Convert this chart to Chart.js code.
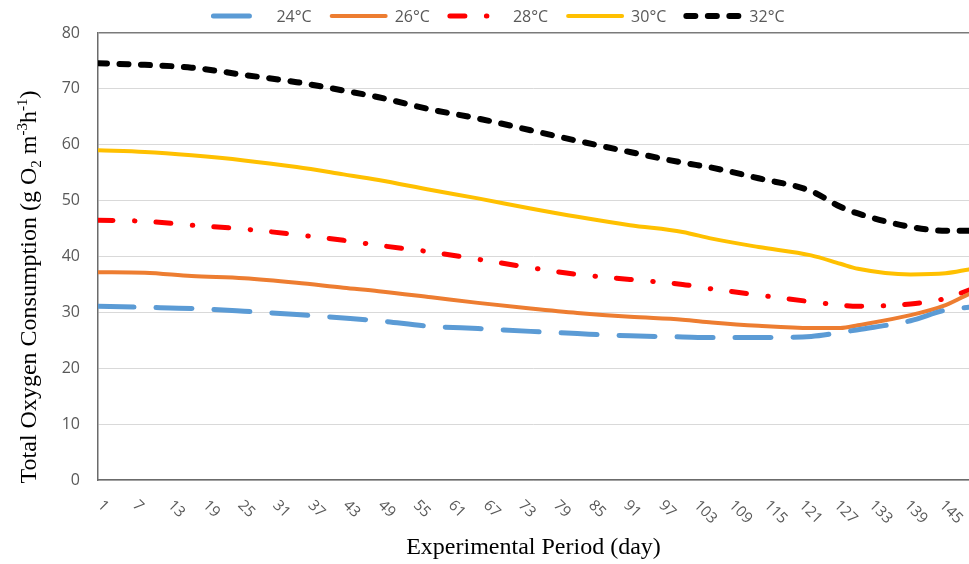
<!DOCTYPE html>
<html>
<head>
<meta charset="utf-8">
<script src="https://cdn.jsdelivr.net/npm/chart.js@4.4.1/dist/chart.umd.min.js"></script>
<style>
  html, body { margin: 0; padding: 0; background: #fff; }
  #wrap { width: 969px; height: 564px; position: relative; }
</style>
</head>
<body>
<div id="wrap"><canvas id="chart"></canvas></div>
<script>
const days = [1, 9, 17, 26, 35, 43, 49, 58, 66, 75, 83, 92, 101, 106, 114, 123, 128, 131, 140, 146, 150];
const t24 = [31.1, 30.9, 30.7, 30.2, 29.6, 29.0, 28.5, 27.5, 27.1, 26.6, 26.2, 25.8, 25.6, 25.5, 25.5, 25.7, 26.4, 26.9, 28.5, 30.4, 30.9];
const t26 = [37.2, 37.1, 36.5, 36.1, 35.3, 34.4, 33.8, 32.7, 31.7, 30.7, 29.9, 29.2, 28.7, 28.2, 27.6, 27.2, 27.2, 27.7, 29.5, 31.3, 33.3];
const t28 = [46.5, 46.3, 45.6, 44.9, 43.9, 42.9, 42.0, 40.8, 39.5, 38.0, 36.8, 35.9, 35.0, 34.2, 33.1, 31.9, 31.3, 31.1, 31.5, 32.5, 34.0];
const t30 = [59.0, 58.7, 58.1, 57.2, 56.0, 54.7, 53.7, 51.9, 50.4, 48.6, 47.1, 45.6, 44.4, 43.2, 41.7, 40.2, 38.7, 37.8, 36.8, 37.0, 37.7];
const t32 = [74.6, 74.3, 73.8, 72.5, 71.2, 69.7, 68.5, 66.3, 64.7, 62.6, 60.7, 58.7, 56.8, 55.9, 54.0, 51.7, 48.9, 47.7, 45.3, 44.6, 44.6];
const seriesLabels = ['24°C', '26°C', '28°C', '30°C', '32°C'];
const tickDays = [1, 7, 13, 19, 25, 31, 37, 43, 49, 55, 61, 67, 73, 79, 85, 91, 97, 103, 109, 115, 121, 127, 133, 139, 145];

function pts(arr) {
    return days.map((d, i) => ({x: d, y: arr[i]}));
}

function makeSet(label, arr, color, width, dash) {
    return {
        label: label,
        data: pts(arr),
        borderColor: color,
        backgroundColor: color,
        borderWidth: width,
        borderDash: dash,
        borderCapStyle: 'round',
        borderJoinStyle: 'round',
        cubicInterpolationMode: 'monotone',
        pointRadius: 0,
        fill: false
    };
}

// legend, rotated day labels and the y title with sub/superscripts
const extras = {
    id: 'extras',
    afterDraw(chart) {
        const ctx = chart.ctx;
        const xs = chart.scales.x;
        const area = chart.chartArea;
        ctx.save();

        ctx.font = '15px "Open Sans"';
        ctx.fillStyle = '#595959';
        ctx.textAlign = 'left';
        ctx.textBaseline = 'middle';
        tickDays.forEach(d => {
            const px = xs.getPixelForValue(d);
            ctx.save();
            ctx.translate(px + 2, area.bottom + 23);
            ctx.rotate(Math.PI / 4);
            ctx.fillText(String(d), 0, 0);
            ctx.restore();
        });

        // legend
        ctx.font = '16px "Open Sans"';
        const legendY = 16, sample = 54, gapText = 9, gapItem = 20;
        const sets = chart.data.datasets;
        const widths = sets.map(ds => ctx.measureText(ds.label).width);
        const total = widths.reduce((a, w) => a + sample + gapText + w + gapItem, 0) - gapItem;
        let x = 499 - total / 2;
        sets.forEach((ds, i) => {
            ctx.beginPath();
            ctx.setLineDash(ds.borderDash || []);
            ctx.lineCap = 'round';
            ctx.lineWidth = ds.borderWidth;
            ctx.strokeStyle = ds.borderColor;
            ctx.moveTo(x, legendY);
            ctx.lineTo(x + sample, legendY);
            ctx.stroke();
            ctx.setLineDash([]);
            ctx.fillText(ds.label, x + sample + gapText, legendY + 1);
            x += sample + gapText + widths[i] + gapItem;
        });

        // y axis title
        const parts = [
            ['Total Oxygen Consumption (g O', 24, 0],
            ['2', 15, 5],
            [' m', 24, 0],
            ['-3', 15, -9],
            ['h', 24, 0],
            ['-1', 15, -9],
            [')', 24, 0]
        ];
        ctx.fillStyle = '#000';
        ctx.textBaseline = 'alphabetic';
        let len = 0;
        parts.forEach(p => {
            ctx.font = p[1] + 'px "Liberation Serif"';
            len += ctx.measureText(p[0]).width;
        });
        ctx.translate(28, 287);
        ctx.rotate(-Math.PI / 2);
        let u = -len / 2;
        parts.forEach(p => {
            ctx.font = p[1] + 'px "Liberation Serif"';
            ctx.fillText(p[0], u, 8 + p[2]);
            u += ctx.measureText(p[0]).width;
        });
        ctx.restore();
    }
};

new Chart(document.getElementById('chart'), {
    type: 'line',
    data: {
        datasets: [
            makeSet(seriesLabels[0], t24, '#5B9BD5', 5, [36, 22]),
            makeSet(seriesLabels[1], t26, '#ED7D31', 4, []),
            makeSet(seriesLabels[2], t28, '#FF0000', 5, [15, 21.5, 0.5, 21]),
            makeSet(seriesLabels[3], t30, '#FFC000', 4, []),
            makeSet(seriesLabels[4], t32, '#000000', 6, [9, 12.5])
        ]
    },
    options: {
        responsive: true,
        maintainAspectRatio: false,
        animation: false,
        layout: {
            padding: {top: 33, right: 0, bottom: 0, left: 0}
        },
        scales: {
            x: {
                type: 'linear',
                min: 1,
                max: 150,
                ticks: {display: false},
                grid: {display: false, drawTicks: false},
                border: {display: true, color: '#6b6b6b', width: 1.5},
                title: {
                    display: true,
                    text: 'Experimental Period (day)',
                    color: '#000',
                    font: {family: 'Liberation Serif', size: 24},
                    padding: {top: 0, bottom: 2}
                },
                afterFit: function(scale) {
                    scale.height = 84;
                }
            },
            y: {
                min: 0,
                max: 80,
                ticks: {
                    stepSize: 10,
                    color: '#595959',
                    padding: 18,
                    font: {family: 'Open Sans', size: 16}
                },
                grid: {
                    drawTicks: false,
                    color: c => (c.tick && c.tick.value === 80) ? '#7a7a7a' : '#d9d9d9',
                    lineWidth: c => (c.tick && c.tick.value === 80) ? 1.5 : 1
                },
                border: {display: true, color: '#6b6b6b', width: 1.5},
                afterFit: function(scale) {
                    scale.width = 98;
                }
            }
        },
        plugins: {
            legend: {display: false},
            tooltip: {enabled: false}
        }
    },
    plugins: [extras]
});
</script>
</body>
</html>
